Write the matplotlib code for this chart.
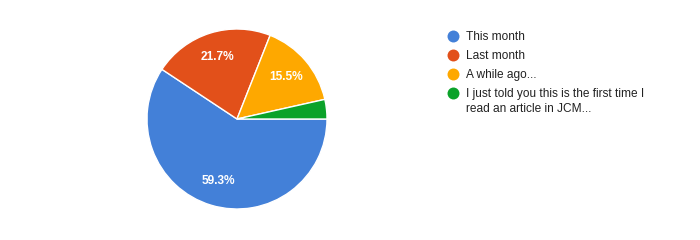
import matplotlib
matplotlib.use('Agg')
import matplotlib.pyplot as plt

plt.rcParams['font.family'] = ['Liberation Sans', 'DejaVu Sans']

# answers and their share (%)
labels = ['This month', 'Last month', 'A while ago...',
          'I just told you this is the first time I\nread an article in JCM...']
shares = [59.3, 21.7, 15.5, 3.5]
colors = ['#4380d8', '#e2501a', '#fea800', '#0ba22a']

W, H = 700, 240
fig = plt.figure(figsize=(W / 100, H / 100), dpi=100)

# pie axes: centre (237,119) px, radius 90 px
cx, cy, r = 237, 119, 90
ax = fig.add_axes([(cx - r) / W, (H - cy - r) / H, 2 * r / W, 2 * r / H])
wedges, texts, autotexts = ax.pie(
    shares, colors=colors, startangle=0, counterclock=False,
    autopct=lambda p: '%.1f%%' % p if p > 5 else '', pctdistance=0.72,
    wedgeprops=dict(edgecolor='white', linewidth=1.0))
for t in autotexts:
    t.set_color('white')
    t.set_fontsize(8.6)
    t.set_fontweight('bold')
ax.set_xlim(-1, 1)
ax.set_ylim(-1, 1)
ax.set_aspect('equal')

# legend drawn in pixel coords
lax = fig.add_axes([0, 0, 1, 1])
lax.set_xlim(0, W)
lax.set_ylim(H, 0)
lax.axis('off')
ys = [36, 55, 74, 93]
for y, lab, c in zip(ys, labels, colors):
    lax.plot(453, y, 'o', color=c, markersize=8.6, markeredgewidth=0)
    first, *rest = lab.split('\n')
    lax.text(466, y + 4.2, first, fontsize=8.6, color='#222222',
             va='baseline', ha='left')
    for k, line in enumerate(rest):
        lax.text(466, y + 4.2 + 14.5 * (k + 1), line, fontsize=8.6,
                 color='#222222', va='baseline', ha='left')

fig.savefig('out.png', dpi=100, facecolor='white')
